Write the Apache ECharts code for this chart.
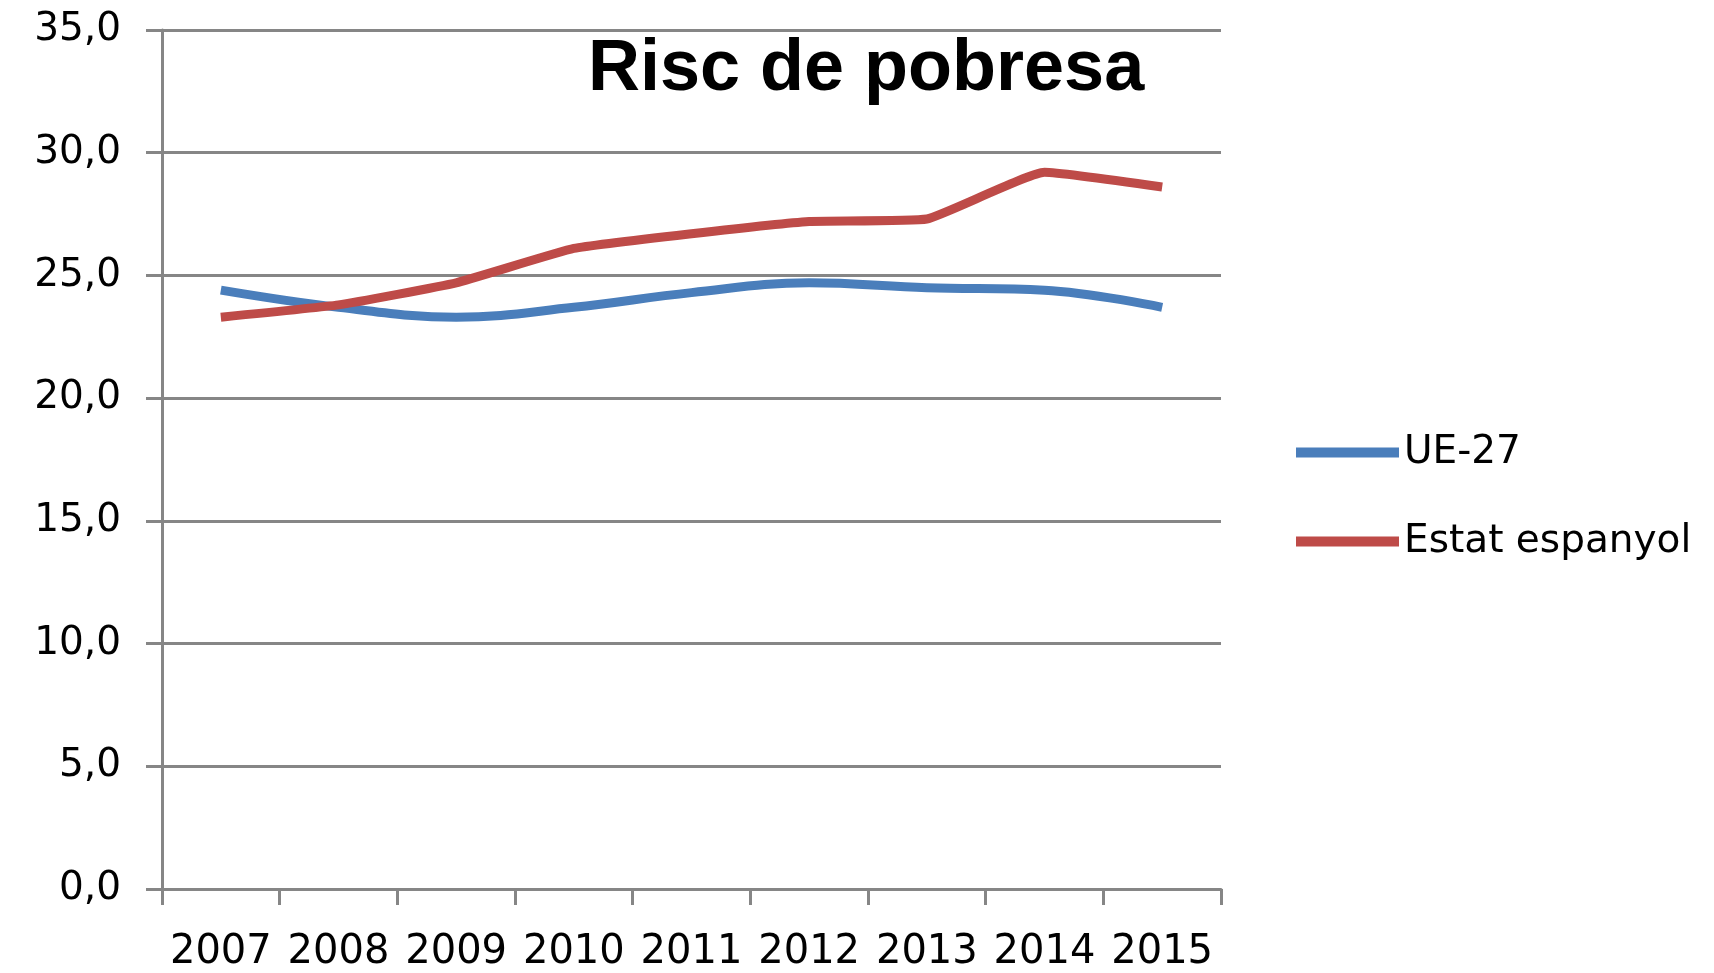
<!DOCTYPE html>
<html>
<head>
<meta charset="utf-8">
<script src="https://cdn.jsdelivr.net/npm/echarts@6/dist/echarts.min.js"></script>
<style>
html,body{margin:0;padding:0;background:#fff;}
#c{width:1714px;height:973px;}
</style>
</head>
<body>
<div id="c"></div>
<script>
const years = ['2007','2008','2009','2010','2011','2012','2013','2014','2015'];
const ue27 = [24.4, 23.7, 23.3, 23.7, 24.3, 24.7, 24.5, 24.4, 23.7];
const espanya = [23.3, 23.8, 24.7, 26.1, 26.7, 27.2, 27.3, 29.2, 28.6];
const seriesNames = ['UE-27', 'Estat espanyol'];
const titleText = 'Risc de pobresa';

const chart = echarts.init(document.getElementById('c'), null, {renderer: 'canvas'});
const grey = '#868686';
chart.setOption({
  animation: false,
  backgroundColor: '#ffffff',
  title: {
    text: titleText,
    left: 588,
    top: 34,
    padding: 0,
    textStyle: {fontFamily: 'Liberation Sans', fontWeight: 'bold', fontSize: 72, color: '#000'}
  },
  legend: {
    orient: 'vertical',
    left: 1291,
    top: 428,
    itemWidth: 103,
    itemHeight: 10,
    itemGap: 50,
    icon: 'rect',
    textStyle: {fontFamily: 'DejaVu Sans', fontSize: 39, color: '#000', padding: [0,0,0,0]},
    data: seriesNames
  },
  grid: {left: 162, right: 493, top: 30, bottom: 82, containLabel: false},
  xAxis: {
    type: 'category',
    data: years,
    boundaryGap: true,
    axisLine: {lineStyle: {color: grey, width: 3}},
    axisTick: {show: true, interval: 0, length: 16, lineStyle: {color: grey, width: 3}},
    axisLabel: {interval: 0, hideOverlap: false, fontFamily: 'DejaVu Sans', fontSize: 40, color: '#000', margin: 44}
  },
  yAxis: {
    type: 'value',
    min: 0, max: 35, interval: 5,
    axisLine: {show: true, lineStyle: {color: grey, width: 3}},
    axisTick: {show: true, length: 16, lineStyle: {color: grey, width: 3}},
    splitLine: {lineStyle: {color: grey, width: 3}},
    axisLabel: {
      fontFamily: 'DejaVu Sans', fontSize: 39, color: '#000', margin: 41,
      formatter: v => v.toFixed(1).replace('.', ',')
    }
  },
  series: [
    {
      name: seriesNames[0], type: 'line', data: ue27,
      smooth: 0.4, showSymbol: false, symbol: 'none',
      lineStyle: {color: '#4A7EBB', width: 9},
      itemStyle: {color: '#4A7EBB'}
    },
    {
      name: seriesNames[1], type: 'line', data: espanya,
      smooth: 0.12, showSymbol: false, symbol: 'none',
      lineStyle: {color: '#BE4B48', width: 9},
      itemStyle: {color: '#BE4B48'}
    }
  ]
});
</script>
</body>
</html>
